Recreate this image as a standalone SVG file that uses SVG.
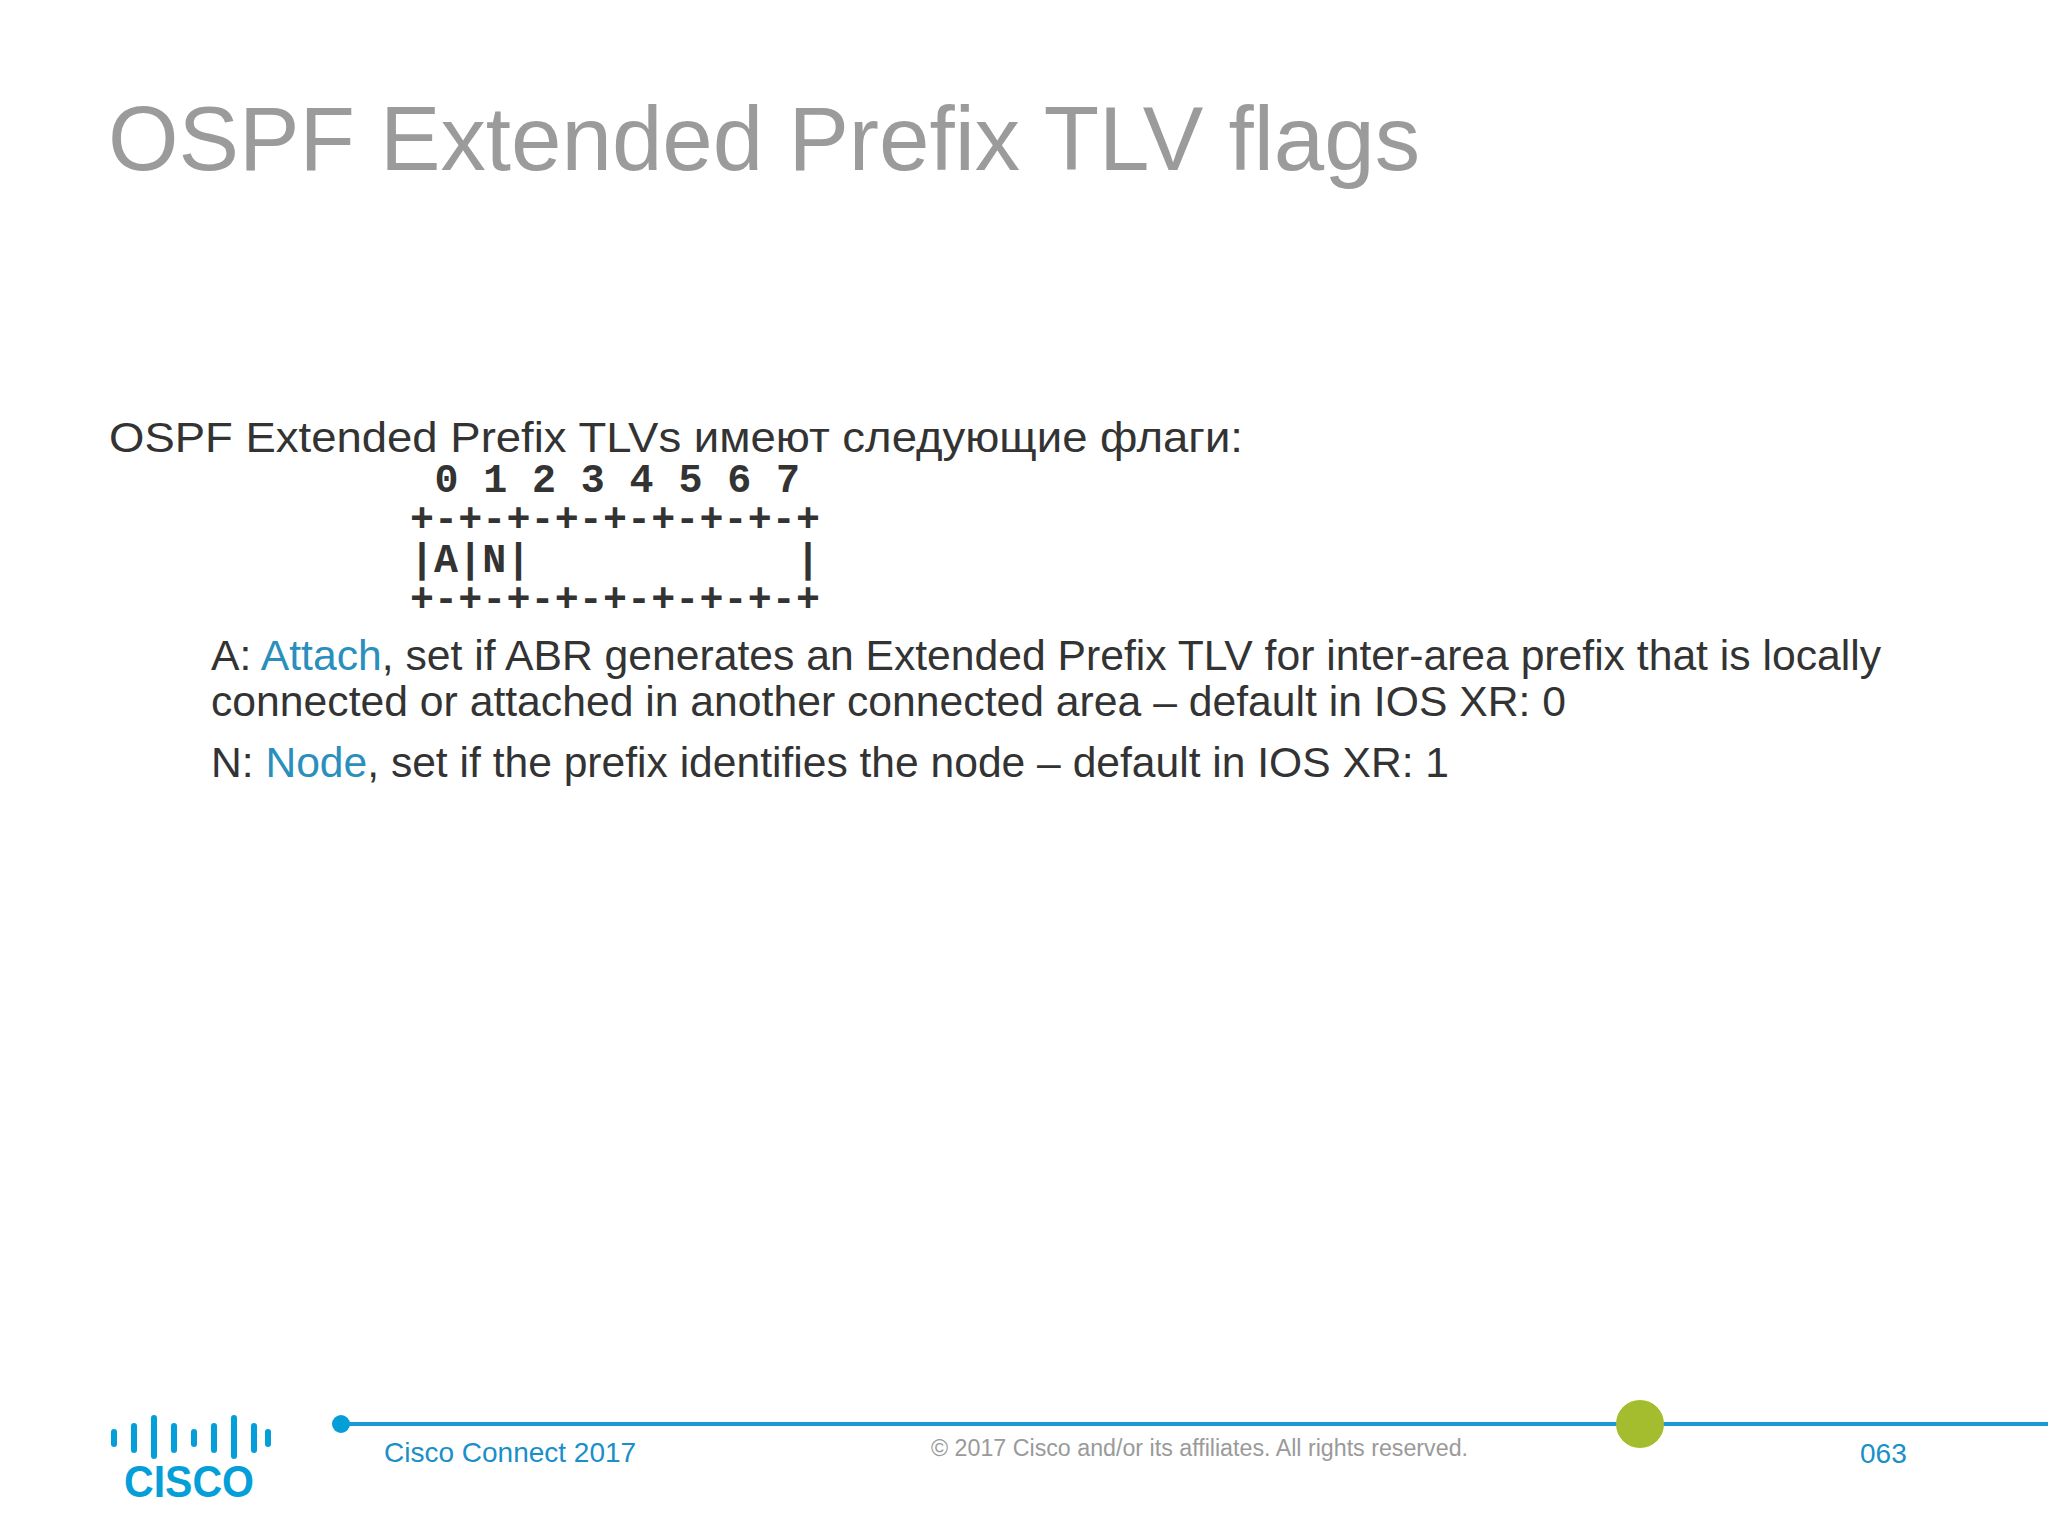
<svg xmlns="http://www.w3.org/2000/svg" width="2048" height="1536" viewBox="0 0 2048 1536">
<style>
.s{font-family:"Liberation Sans",Arial,sans-serif}
.m{font-family:"Liberation Mono","Courier New",monospace;font-weight:bold;font-size:40px;fill:#333;white-space:pre}
.b{font-size:42.5px;fill:#333}
.l{fill:#2a8fbd}
.bar{stroke:#049fd9;stroke-width:6;stroke-linecap:round}
</style>
<rect width="2048" height="1536" fill="#ffffff"/>
<text class="s" x="108" y="170" font-size="90" fill="#9b9b9b" textLength="1312" lengthAdjust="spacingAndGlyphs">OSPF Extended Prefix TLV flags</text>
<text class="s b" x="109" y="452" textLength="1134" lengthAdjust="spacingAndGlyphs">OSPF Extended Prefix TLVs имеют следующие флаги:</text>
<g id="flags">
<text class="m" x="410" y="492" textLength="390" lengthAdjust="spacing"> 0 1 2 3 4 5 6 7</text>
<text class="m" x="410" y="531" textLength="410" lengthAdjust="spacing">+-+-+-+-+-+-+-+-+</text>
<text class="m" x="410" y="572" textLength="410" lengthAdjust="spacing">|A|N|           |</text>
<text class="m" x="410" y="611" textLength="410" lengthAdjust="spacing">+-+-+-+-+-+-+-+-+</text>
</g>
<text class="s b" x="211" y="670" textLength="1670" lengthAdjust="spacingAndGlyphs">A: <tspan class="l">Attach</tspan>, set if ABR generates an Extended Prefix TLV for inter-area prefix that is locally</text>
<text class="s b" x="211" y="716" textLength="1355" lengthAdjust="spacingAndGlyphs">connected or attached in another connected area – default in IOS XR: 0</text>
<text class="s b" x="211" y="777" textLength="1238" lengthAdjust="spacingAndGlyphs">N: <tspan class="l">Node</tspan>, set if the prefix identifies the node – default in IOS XR: 1</text>
<g id="footer">
<line x1="341" y1="1424" x2="2048" y2="1424" stroke="#1a9ad2" stroke-width="4"/>
<circle cx="341" cy="1424" r="9" fill="#049fd9"/>
<circle cx="1640" cy="1424" r="24" fill="#a4bd2e"/>
<text class="s" x="384" y="1462" font-size="28" fill="#1a8fc9">Cisco Connect 2017</text>
<text class="s" x="931" y="1456" font-size="23" fill="#9a9a9a" textLength="537" lengthAdjust="spacingAndGlyphs">© 2017  Cisco and/or its affiliates. All rights reserved.</text>
<text class="s" x="1860" y="1463" font-size="28" fill="#1a8fc9">063</text>
</g>
<g id="logo">
<line class="bar" x1="114" y1="1432" x2="114" y2="1444"/>
<line class="bar" x1="134" y1="1426" x2="134" y2="1450"/>
<line class="bar" x1="154" y1="1418" x2="154" y2="1456"/>
<line class="bar" x1="174" y1="1426" x2="174" y2="1450"/>
<line class="bar" x1="194" y1="1432" x2="194" y2="1444"/>
<line class="bar" x1="214" y1="1426" x2="214" y2="1450"/>
<line class="bar" x1="234" y1="1418" x2="234" y2="1456"/>
<line class="bar" x1="254" y1="1426" x2="254" y2="1450"/>
<line class="bar" x1="268" y1="1432" x2="268" y2="1444"/>
<text class="s" x="189" y="1497" font-size="44" font-weight="bold" fill="#049fd9" text-anchor="middle" textLength="130" lengthAdjust="spacingAndGlyphs">CISCO</text>
</g>
</svg>
